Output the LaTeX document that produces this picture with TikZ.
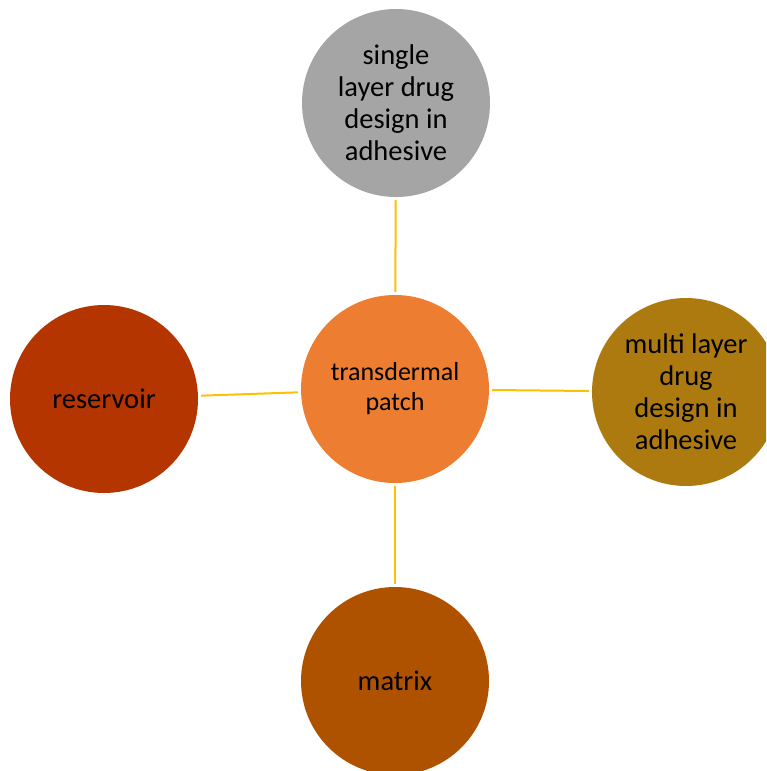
\documentclass[tikz,border=0pt]{standalone}
\usepackage{fontspec}
\setmainfont{Carlito}
\definecolor{cgray}{HTML}{A5A5A5}
\definecolor{corange}{HTML}{ED7D31}
\definecolor{cgold}{HTML}{AD7A10}
\definecolor{crust}{HTML}{B43500}
\definecolor{cbrown}{HTML}{AF5200}
\definecolor{cline}{HTML}{FFC000}
\begin{document}
\begin{tikzpicture}[x=1pt,y=-1pt,
  bubble/.style={circle,minimum size=188pt,inner sep=0pt,align=center,text=black,font=\fontsize{28.5}{32}\selectfont},
  link/.style={draw=cline,line width=2pt,shorten <=3pt,shorten >=3pt}]
\useasboundingbox (0,0) rectangle (766,771);
\begin{scope}
\clip (0,0) rectangle (766,771);
\node[bubble,fill=corange,font=\fontsize{26}{30}\selectfont] (c) at (395,389) {transdermal\\patch};
\node[bubble,fill=cgray] (t) at (396,103) {single\\layer drug\\design in\\adhesive};
\node[bubble,fill=cgold] (r) at (686,392) {multi layer\\drug\\design in\\adhesive};
\node[bubble,fill=crust] (l) at (104,399) {reservoir};
\node[bubble,fill=cbrown] (b) at (395,681) {matrix};
\draw[link] (t) -- (c);
\draw[link] (c) -- (r);
\draw[link] (l) -- (c);
\draw[link] (c) -- (b);
\end{scope}
\end{tikzpicture}
\end{document}
